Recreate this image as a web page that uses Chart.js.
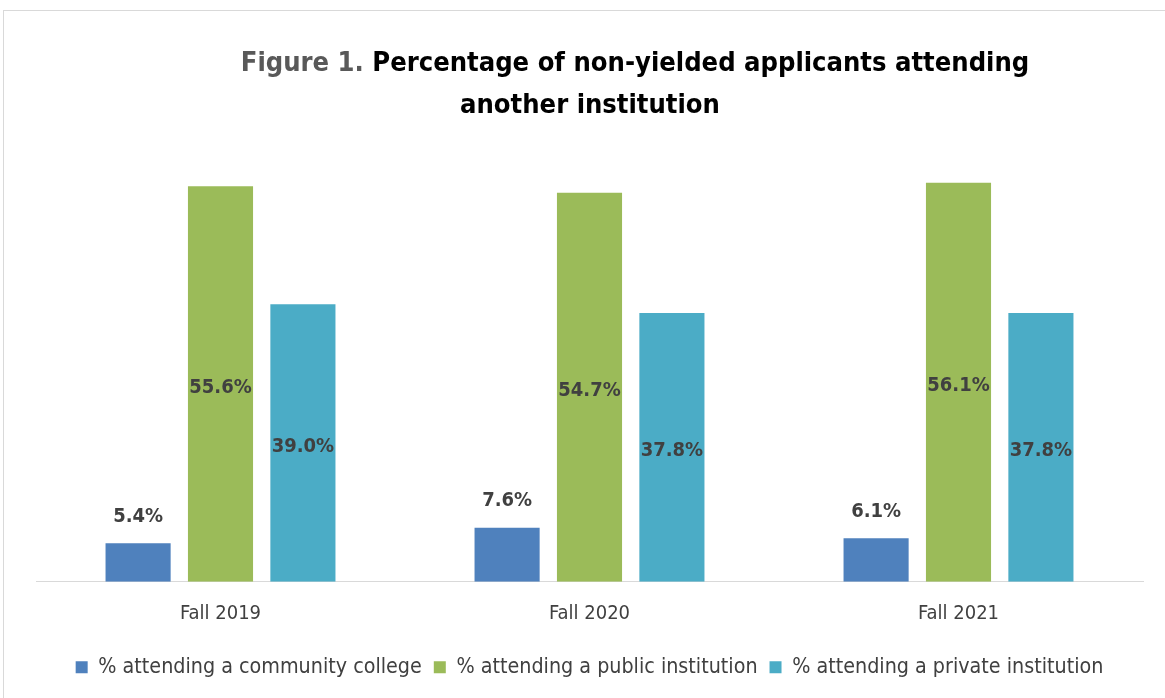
<!DOCTYPE html>
<html>
<head>
<meta charset="utf-8">
<script src="https://cdn.jsdelivr.net/npm/chart.js@4.4.1/dist/chart.umd.min.js"></script>
<style>
  html, body { margin: 0; padding: 0; background: #fff; }
  #wrap { width: 1165px; height: 698px; position: relative; }
</style>
</head>
<body>
<div id="wrap"><canvas id="grafico"></canvas></div>
<script>
const categorias = ["Fall 2019", "Fall 2020", "Fall 2021"];
const comunitario = [5.4, 7.6, 6.1];
const publico = [55.6, 54.7, 56.1];
const privado = [39.0, 37.8, 37.8];
const nomes = ["% attending a community college", "% attending a public institution", "% attending a private institution"];
const cores = ["#4F81BD", "#9BBB59", "#4BACC6"];

const FONTE = "'Liberation Sans Narrow', 'DejaVu Sans Condensed', sans-serif";

// moldura e titulo em duas linhas (Figure 1. em cinza)
const tituloPlugin = {
  id: "titulo",
  beforeDraw(chart) {
    const ctx = chart.ctx;
    ctx.save();
    ctx.strokeStyle = "#d9d9d9";
    ctx.lineWidth = 1;
    ctx.strokeRect(3.5, 10.5, 1200, 720);
    ctx.restore();
  },
  afterDraw(chart) {
    const ctx = chart.ctx;
    ctx.save();
    const p1 = "Figure 1. ";
    const p2 = "Percentage of non-yielded applicants attending";
    ctx.font = "bold 30px " + FONTE;
    const tam = 30 * 790 / ctx.measureText(p1 + p2).width; // ajusta a largura
    ctx.font = "bold " + tam.toFixed(1) + "px " + FONTE;
    ctx.textBaseline = "alphabetic";
    const w1 = ctx.measureText(p1).width;
    const w2 = ctx.measureText(p2).width;
    let x = 635 - (w1 + w2) / 2;
    ctx.fillStyle = "#595959";
    ctx.fillText(p1, x, 71);
    ctx.fillStyle = "#000";
    ctx.fillText(p2, x + w1, 71);
    ctx.textAlign = "center";
    ctx.fillText("another institution", 590, 113);
    ctx.restore();
  }
};

// rotulos de dados
const rotulosPlugin = {
  id: "rotulos",
  afterDatasetsDraw(chart) {
    const ctx = chart.ctx;
    ctx.save();
    ctx.font = "bold 20px " + FONTE;
    ctx.fillStyle = "#404040";
    ctx.textAlign = "center";
    ctx.textBaseline = "middle";
    chart.data.datasets.forEach((ds, i) => {
      chart.getDatasetMeta(i).data.forEach((bar, j) => {
        const txt = ds.data[j].toFixed(1) + "%";
        let y;
        if (i === 0) y = bar.y - 27;
        else y = (bar.y + bar.base) / 2 + 4;
        ctx.fillText(txt, bar.x, y);
      });
    });
    ctx.restore();
  }
};

const serie = (label, data, cor) => ({
  label, data,
  backgroundColor: cor,
  borderWidth: 0,
  categoryPercentage: 0.67,
  barPercentage: 0.79
});

new Chart(document.getElementById("grafico"), {
  type: "bar",
  data: {
    labels: categorias,
    datasets: [
      serie(nomes[0], comunitario, cores[0]),
      serie(nomes[1], publico, cores[1]),
      serie(nomes[2], privado, cores[2])
    ]
  },
  options: {
    responsive: true,
    maintainAspectRatio: false,
    animation: false,
    layout: { padding: { top: 155, left: 36, right: 22, bottom: 10 } },
    plugins: {
      title: { display: false },
      tooltip: { enabled: false },
      legend: {
        position: "bottom",
        labels: {
          boxWidth: 12,
          boxHeight: 12,
          padding: 12,
          color: "#404040",
          font: { family: FONTE, size: 21.3 }
        }
      }
    },
    scales: {
      x: {
        grid: { display: false },
        border: { color: "#d9d9d9", width: 1 },
        ticks: { color: "#404040", font: { family: FONTE, size: 20 }, padding: 12 },
        afterFit(scale) { scale.height += 7; }
      },
      y: {
        display: false,
        min: 0,
        max: 60
      }
    }
  },
  plugins: [tituloPlugin, rotulosPlugin]
});
</script>
</body>
</html>
